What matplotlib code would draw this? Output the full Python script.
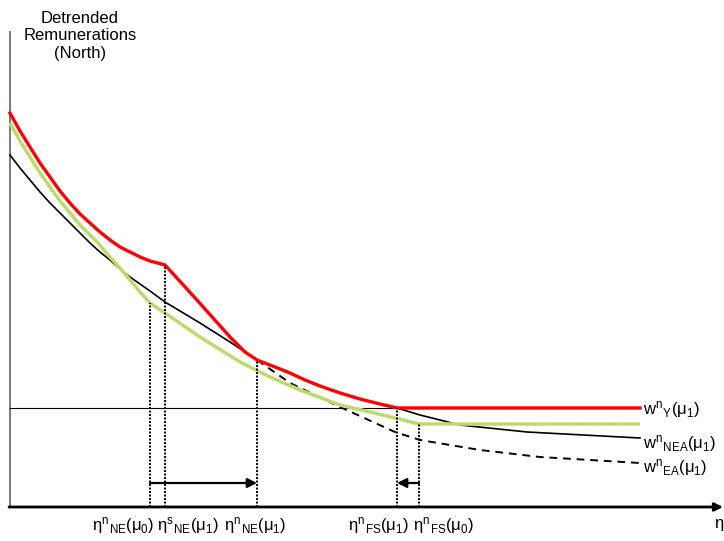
import numpy as np
import matplotlib.pyplot as plt

plt.rcParams['font.family'] = ['Liberation Sans', 'DejaVu Sans']
plt.rcParams['mathtext.fontset'] = 'custom'
plt.rcParams['mathtext.rm'] = 'Liberation Sans'
plt.rcParams['mathtext.it'] = 'Liberation Sans'
plt.rcParams['mathtext.bf'] = 'Liberation Sans:bold'

# wage schedules, eta on x, detrended remuneration on y
wy_x = [0, 10, 20, 30, 40, 50, 60, 70, 80, 90, 100, 110, 120, 130, 140, 155,
        187, 220, 235, 247, 265, 280, 295, 310, 330, 350, 370, 387, 630]
wy_y = [394, 376, 360, 344, 330, 316, 304, 293, 284, 275, 267, 260, 255, 250, 246, 242,
        207, 170, 155, 147, 140, 134, 127, 121, 114, 108, 103, 99, 99]

green_x = [0, 10, 20, 30, 40, 50, 60, 70, 80, 88, 100, 110, 120, 130, 140, 155,
           190, 230, 260, 290, 330, 360, 385, 409, 630]
green_y = [384, 366, 350, 334, 320, 306, 294, 282, 272, 264, 250, 239, 227, 215, 204, 194,
           170, 145, 130, 117, 102, 95, 89, 83, 83]

nea_x = [0, 10, 20, 30, 40, 50, 60, 70, 80, 90, 100, 110, 120, 140, 155, 190, 220, 247,
         265, 280, 295, 310, 330, 350, 370, 387, 410, 450, 517, 630]
nea_y = [352, 339, 327, 315, 304, 294, 284, 274, 264, 255, 247, 238, 230, 216, 205, 184, 165, 147,
         140, 134, 127, 121, 114, 108, 103, 99, 92, 82, 75, 69]

ea_x = [247, 280, 330, 385, 410, 470, 530, 630]
ea_y = [147, 124, 100, 75, 67, 57, 50, 44]

ref_level = 99

# thresholds on the eta axis
eta_ne_mu0 = 140
eta_s_ne_mu1 = 155
eta_ne_mu1 = 247
eta_fs_mu1 = 387
eta_fs_mu0 = 409

fig = plt.figure(figsize=(7.24, 5.41), dpi=100)
ax = fig.add_axes([0, 0, 1, 1])
ax.set_xlim(-10, 714)
ax.set_ylim(-34, 507)
ax.axis('off')

# axes
ax.plot([0, 0], [0, 475], color='#707070', lw=1.3)
ax.annotate('', xy=(713, 0), xytext=(-1, 0),
            arrowprops=dict(arrowstyle='-|>', color='k', lw=2, mutation_scale=12,
                            shrinkA=0, shrinkB=0))
ax.plot([0, 630], [ref_level, ref_level], color='k', lw=0.8)

# curves
ax.plot(ea_x, ea_y, color='k', lw=1.4, ls=(0, (4, 3)))
ax.plot(nea_x, nea_y, color='k', lw=1.2)
ax.plot(green_x, green_y, color='#c5de78', lw=2.6, solid_capstyle='butt')
ax.plot(green_x, green_y, color='#a9cc55', lw=1.0, ls=(0, (1, 1.5)))
ax.plot(wy_x, wy_y, color='#ff0000', lw=2.4)

# dotted drop lines
drops = [(eta_ne_mu0, np.interp(eta_ne_mu0, green_x, green_y)),
         (eta_s_ne_mu1, np.interp(eta_s_ne_mu1, wy_x, wy_y)),
         (eta_ne_mu1, np.interp(eta_ne_mu1, wy_x, wy_y)),
         (eta_fs_mu1, np.interp(eta_fs_mu1, wy_x, wy_y)),
         (eta_fs_mu0, np.interp(eta_fs_mu0, green_x, green_y))]
for xv, top in drops:
    ax.plot([xv, xv], [0, top], color='k', lw=1.4, ls=(0, (1, 0.8)))

# shifts of the thresholds
arrow_y = 24
ax.annotate('', xy=(eta_ne_mu1, arrow_y), xytext=(eta_ne_mu0, arrow_y),
            arrowprops=dict(arrowstyle='-|>', color='k', lw=1.6, mutation_scale=14,
                            shrinkA=0, shrinkB=0))
ax.annotate('', xy=(eta_fs_mu1, arrow_y), xytext=(eta_fs_mu0, arrow_y),
            arrowprops=dict(arrowstyle='-|>', color='k', lw=1.6, mutation_scale=14,
                            shrinkA=0, shrinkB=0))

fs = 12
ax.text(70, 471, 'Detrended\nRemunerations\n(North)', ha='center', va='center',
        fontsize=fs, linespacing=1.2)

bottom_labels = [r'$η^{n}{}_{NE}(μ_{0})$', r'$η^{s}{}_{NE}(μ_{1})$', r'$η^{n}{}_{NE}(μ_{1})$',
                 r'$η^{n}{}_{FS}(μ_{1})$', r'$η^{n}{}_{FS}(μ_{0})$', r'$η$']
bottom_x = [113, 178, 245, 368, 433, 709]
for lab, xv in zip(bottom_labels, bottom_x):
    ax.text(xv, -18, lab, ha='center', va='center', fontsize=fs)

right_labels = [r'$w^{n}{}_{Y}(μ_{1})$', r'$w^{n}{}_{NEA}(μ_{1})$', r'$w^{n}{}_{EA}(μ_{1})$']
right_y = [97, 64, 39]
for lab, yv in zip(right_labels, right_y):
    ax.text(633, yv, lab, ha='left', va='center', fontsize=fs)

fig.savefig('out.png', dpi=100)
